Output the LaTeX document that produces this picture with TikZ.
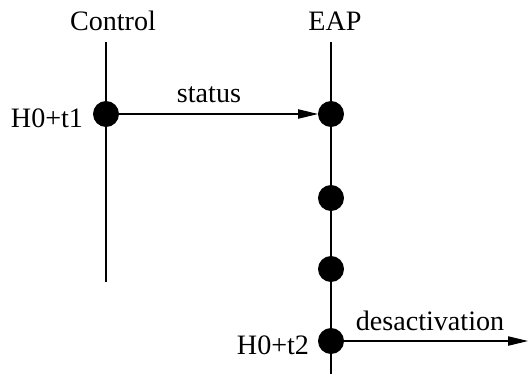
\documentclass[tikz,border=0pt]{standalone}
\usepackage{fontspec}
\setmainfont{Liberation Serif}
\usetikzlibrary{arrows.meta,positioning}
\tikzset{
  dot/.style={draw, circle, fill=black, inner sep=0pt, minimum size=0.375cm},
  life/.style={line width=0.45pt},
  msg/.style={line width=0.45pt, -{Triangle[length=0.3cm,width=0.14cm]}},
}

\begin{document}
\begin{tikzpicture}[x=0.015cm, y=-0.015cm, every node/.style={font=\fontsize{12}{14}\selectfont}]
\useasboundingbox (0,0) rectangle (528,374);
\def \cx {106}
\def \ex {331}
% actors
\node at (113, 21) (ctl) {Control};
\node at (335, 21) (eap) {EAP};
\coordinate (ctltop) at (\cx, 42);
\coordinate (ctlbot) at (\cx, 282);
\coordinate (eaptop) at (\ex, 42);
\coordinate (eapbot) at (\ex, 374);
\draw[life] (ctltop) -- (ctlbot);
\draw[life] (eaptop) -- (eapbot);
% events
\node[dot] at (\cx, 114) (c1) {};
\node[dot] at (\ex, 114) (e1) {};
\node[dot] at (\ex, 198) (e2) {};
\node[dot] at (\ex, 269) (e3) {};
\node[dot] at (\ex, 341) (e4) {};
\node at (47, 118) (t1) {H0+t1};
\node at (273, 345) (t2) {H0+t2};
% messages
\coordinate (out) at (528, 341);
\draw[msg] (c1) -- (e1);
\draw[msg] (e4) -- (out);
\node at (209, 95) (status) {status};
\node at (430, 321) (desact) {desactivation};
\end{tikzpicture}
\end{document}
